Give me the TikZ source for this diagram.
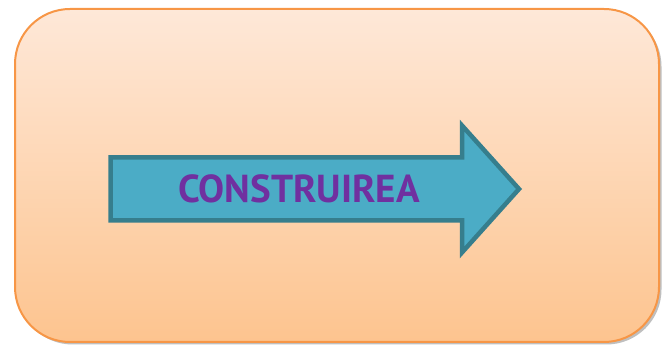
\documentclass[tikz,border=0pt]{standalone}
\usepackage{fontspec}
\newfontfamily\labelfont{PT Sans}
\usetikzlibrary{shadows}
\definecolor{boxtop}{HTML}{FEE8D8}
\definecolor{boxbot}{HTML}{FDC48F}
\definecolor{boxline}{HTML}{F79646}
\definecolor{arrfill}{HTML}{4BACC6}
\definecolor{arrline}{HTML}{367E8D}
\definecolor{txtcol}{HTML}{7030A0}
\tikzset{
  panel/.style={draw=boxline, line width=2pt, rounded corners=55pt, top color=boxtop, bottom color=boxbot,
    drop shadow={shadow xshift=2.5pt, shadow yshift=-2.5pt, opacity=0.25, fill=black}},
  arrowshape/.style={draw=arrline, fill=arrfill, line width=4.5pt, line join=miter},
  label/.style={font=\labelfont\bfseries\fontsize{39}{42}\selectfont, text=txtcol, inner sep=0pt}
}
\begin{document}
\begin{tikzpicture}[x=1pt,y=1pt]
\useasboundingbox (0,0) rectangle (667,345);
\path[panel] (15,3) rectangle (659,336);
\draw[arrowshape] (110.5,187.5) -- (462,187.5) -- (462,219.5) -- (519,156) -- (462,92.5) -- (462,124.5) -- (110.5,124.5) -- cycle;
\node[label, anchor=base] (t) at (299,142) {CONSTRUIREA};
\end{tikzpicture}
\end{document}
